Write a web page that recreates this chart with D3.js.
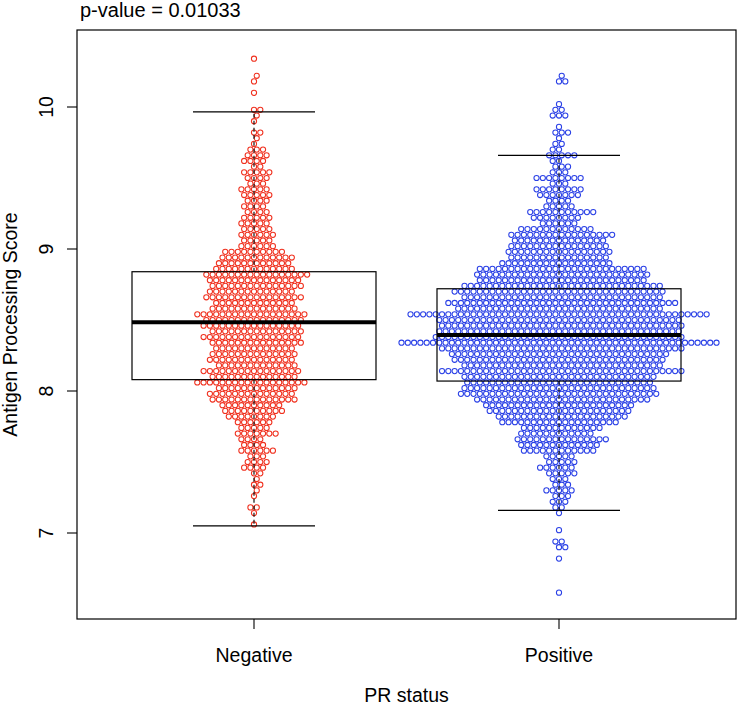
<!DOCTYPE html>
<html><head><meta charset="utf-8">
<script src="https://cdn.jsdelivr.net/npm/d3@7"></script>
<style>
body{margin:0;background:#fff}
text{font-family:"Liberation Sans",Arial,Helvetica,sans-serif;font-size:19.5px;fill:#000}
</style>
</head><body>
<svg id="c" width="739" height="707"></svg>
<script>
// ---------------- data ----------------
const groups = ["Negative", "Positive"];
const groupColors = ["#f0301e", "#2a40e6"];
// score bins: centres 6.58, 6.62, ... 10.34 (step 0.04)
const binStart = 6.58;
const binStep = 0.04;
// number of samples per score bin, from lowest bin upward
const negCounts = [0,0,0,0,0,0,0,0,0,0,0,0,
  1,0,1,2,0,1,1,2,1,2,4,4,3,6,4,4,7,5,6,8,10,10,
  14,14,13,18,14,16,13,14,14,13,15,16,15,16,16,18,14,13,16,14,15,15,17,
  13,12,12,10,6,5,6,5,5,5,4,4,4,5,5,3,4,5,2,4,4,3,1,1,2,0,1,1,2,0,0,1,0,1,1,0,0,1];
const posCounts = [1,0,0,0,0,0,1,0,2,2,0,1,0,0,1,2,3,3,5,3,3,5,6,5,5,
  12,13,15,12,13,19,21,23,24,28,32,31,30,31,39,32,34,35,39,51,40,39,39,39,48,
  33,37,32,34,32,27,28,27,18,16,17,16,15,17,12,6,8,11,5,4,7,8,3,8,3,3,2,5,2,2,1,3,1,0,3,2,1,0,0,0,2,1,0,0,0];
// boxplot statistics per group
const boxLow  = [7.05, 7.16];
const boxQ1   = [8.08, 8.07];
const boxMed  = [8.485, 8.395];
const boxQ3   = [8.84, 8.72];
const boxHigh = [9.965, 9.66];
const yTicks = [7, 8, 9, 10];
const titleText = "p-value = 0.01033";
const yLabel = "Antigen Processing Score";
const xLabel = "PR status";

// ---------------- layout ----------------
const L = 77, R = 736, T = 30, B = 619;
const svg = d3.select("#c");
const y = d3.scaleLinear().domain([7, 10]).range([533, 107]);
const x = d3.scaleLinear().domain([1, 2]).range([254, 559]);
const dotR = 2.6, spacing = 6.3;

// swarm layout (R beeswarm "swarm", ascending priority)
function swarm(values) {
  const pts = values.map(v => ({v, py: y(v), off: 0})).sort((a, b) => b.py - a.py);
  const d = spacing, d2 = d * d;
  for (let i = 1; i < pts.length; i++) {
    const p = pts[i];
    const pre = [];
    for (let j = i - 1; j >= 0; j--) {
      const dy = pts[j].py - p.py;
      if (dy >= d) break;
      pre.push(pts[j]);
    }
    if (!pre.length) { p.off = 0; continue; }
    const cand = [0];
    pre.forEach(q => { const o = Math.sqrt(d2 - (q.py - p.py) ** 2); cand.push(q.off + o); });
    pre.forEach(q => { const o = Math.sqrt(d2 - (q.py - p.py) ** 2); cand.push(q.off - o); });
    let best = Infinity, bestAbs = Infinity;
    for (const c of cand) {
      if (Math.abs(c) >= bestAbs) continue;
      let bad = false;
      for (const q of pre) {
        const dx = c - q.off, dy = p.py - q.py;
        if (dx * dx + dy * dy < 0.999 * d2) { bad = true; break; }
      }
      if (!bad) { best = c; bestAbs = Math.abs(c); }
    }
    p.off = best;
  }
  return pts;
}

const countsByGroup = [negCounts, posCounts];
countsByGroup.forEach((counts, gi) => {
  const vals = [];
  counts.forEach((n, k) => { for (let m = 0; m < n; m++) vals.push(+(binStart + k * binStep).toFixed(2)); });
  const pts = swarm(vals);
  svg.append("g").selectAll("circle").data(pts).join("circle")
    .attr("cx", p => x(gi + 1) + p.off)
    .attr("cy", p => p.py)
    .attr("r", dotR)
    .attr("fill", "none")
    .attr("stroke", groupColors[gi])
    .attr("stroke-width", 1.05);
});

// boxplots
const bw = x(1.4) - x(1), cw = x(1.2) - x(1);
const bx = svg.append("g").attr("stroke", "#000").attr("fill", "none");
groups.forEach((g, i) => {
  const cx = x(i + 1);
  bx.append("line").attr("x1", cx).attr("x2", cx).attr("y1", y(boxQ3[i])).attr("y2", y(boxHigh[i]))
    .attr("stroke-width", 1.1).attr("stroke-dasharray", "4,3");
  bx.append("line").attr("x1", cx).attr("x2", cx).attr("y1", y(boxQ1[i])).attr("y2", y(boxLow[i]))
    .attr("stroke-width", 1.1).attr("stroke-dasharray", "4,3");
  bx.append("line").attr("x1", cx - cw).attr("x2", cx + cw).attr("y1", y(boxHigh[i])).attr("y2", y(boxHigh[i])).attr("stroke-width", 1.2);
  bx.append("line").attr("x1", cx - cw).attr("x2", cx + cw).attr("y1", y(boxLow[i])).attr("y2", y(boxLow[i])).attr("stroke-width", 1.2);
  bx.append("rect").attr("x", cx - bw).attr("width", 2 * bw)
    .attr("y", y(boxQ3[i])).attr("height", y(boxQ1[i]) - y(boxQ3[i])).attr("stroke-width", 1.2);
  bx.append("line").attr("x1", cx - bw).attr("x2", cx + bw).attr("y1", y(boxMed[i])).attr("y2", y(boxMed[i])).attr("stroke-width", 4);
});

// frame
svg.append("rect").attr("x", L).attr("y", T).attr("width", R - L).attr("height", B - T)
  .attr("fill", "none").attr("stroke", "#000").attr("stroke-width", 1.2);

// y axis
const ya = svg.append("g");
yTicks.forEach(t => {
  ya.append("line").attr("x1", L).attr("x2", L - 10).attr("y1", y(t)).attr("y2", y(t)).attr("stroke", "#000").attr("stroke-width", 1.1);
  ya.append("text").attr("transform", `translate(53,${y(t)}) rotate(-90)`).attr("text-anchor", "middle").text(t);
});
// x axis
groups.forEach((g, i) => {
  svg.append("line").attr("x1", x(i + 1)).attr("x2", x(i + 1)).attr("y1", B).attr("y2", B + 10).attr("stroke", "#000").attr("stroke-width", 1.1);
  svg.append("text").attr("x", x(i + 1)).attr("y", 662).attr("text-anchor", "middle").text(g);
});
svg.append("text").attr("x", (L + R) / 2).attr("y", 702).attr("text-anchor", "middle").text(xLabel);
svg.append("text").attr("transform", `translate(17,${(T + B) / 2}) rotate(-90)`).attr("text-anchor", "middle").text(yLabel);
svg.append("text").attr("x", 80).attr("y", 17).style("font-size", "20px").text(titleText);
</script>
</body></html>
